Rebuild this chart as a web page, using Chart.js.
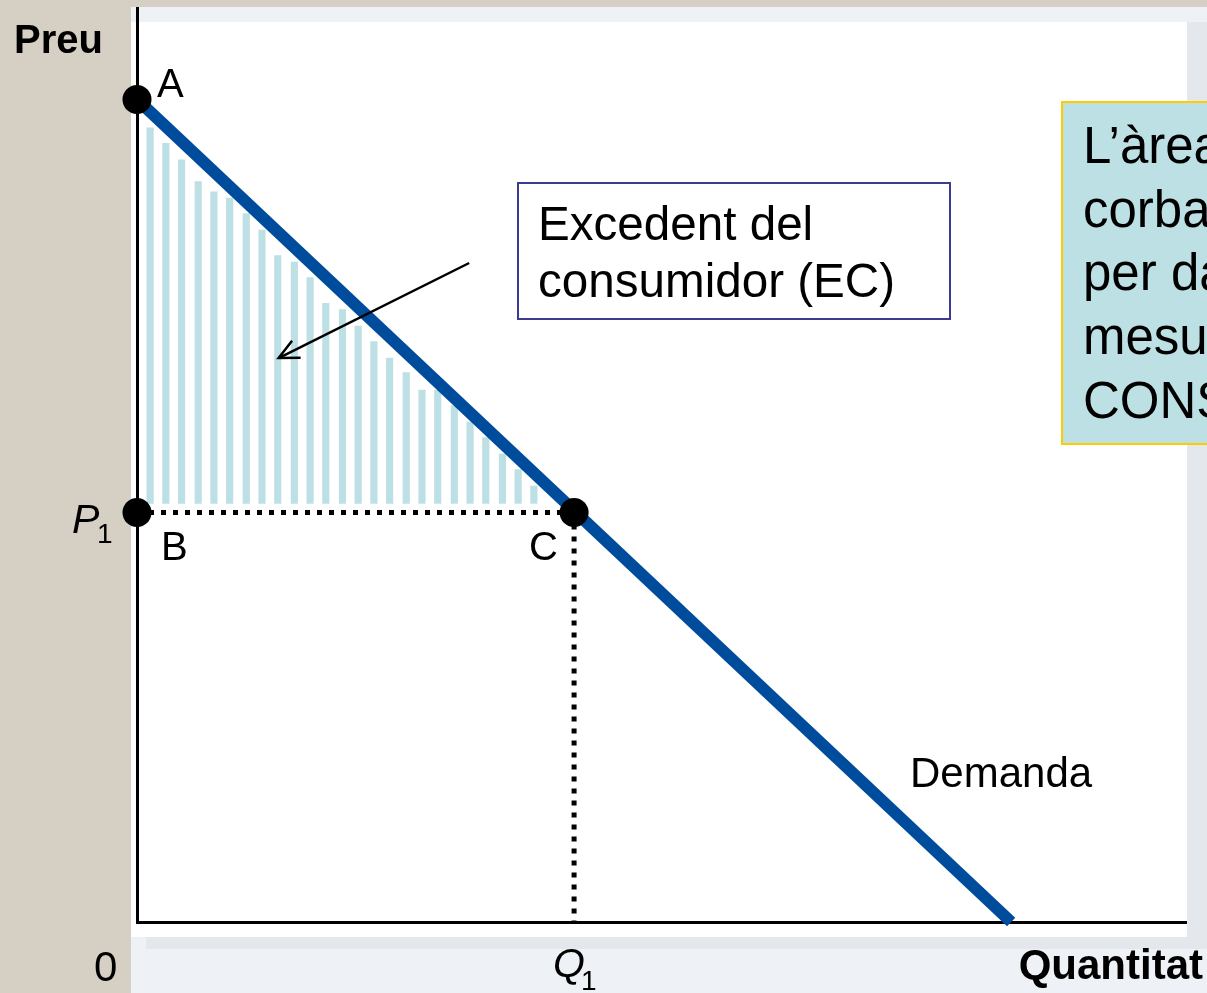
<!DOCTYPE html>
<html>
<head>
<meta charset="utf-8">
<script src="https://cdn.jsdelivr.net/npm/chart.js@4.4.1/dist/chart.umd.min.js"></script>
<style>
  html, body { margin: 0; padding: 0; background: #d5cfc4; }
  #wrap { width: 1207px; height: 993px; position: relative; }
  canvas { display: block; }
</style>
</head>
<body>
<div id="wrap"><canvas id="c" width="1207" height="993"></canvas></div>
<script>
// ---- data (quantity on x, price on y) ----
const barQ   = [0.15, 0.33, 0.51, 0.70, 0.88, 1.06, 1.25, 1.43, 1.61, 1.80, 1.98, 2.16, 2.35, 2.53, 2.71, 2.89, 3.08, 3.26, 3.44, 3.63, 3.81, 3.99, 4.18, 4.36, 4.54];
const barTop = [8.69, 8.52, 8.34, 8.10, 7.99, 7.92, 7.75, 7.57, 7.29, 7.22, 7.05, 6.77, 6.70, 6.52, 6.35, 6.17, 6.01, 5.82, 5.82, 5.65, 5.47, 5.30, 5.12, 4.95, 4.77];
const barBase = 4.58;
const demandQ = [0, 10];
const demandP = [9, 0];
const pointQ = [0, 0, 5];
const pointP = [9, 4.48, 4.48];
const pointNames = ['A', 'B', 'C'];
const priceP1 = 4.48;
const quantQ1 = 5;
const arrowQ = [3.80, 1.62];
const arrowP = [7.21, 6.17];
const xMax = 12, yMax = 10;

const FONT = '"Liberation Sans", Arial, sans-serif';

const bgPlugin = {
  id: 'bg',
  beforeDraw(chart) {
    const ctx = chart.ctx;
    ctx.save();
    ctx.fillStyle = '#d5cfc4';
    ctx.fillRect(0, 0, 1207, 993);
    ctx.fillStyle = '#eef1f5';
    ctx.fillRect(131, 7, 1076, 986);
    ctx.fillStyle = '#e4e7ec';
    ctx.fillRect(146, 937, 1061, 12);
    ctx.fillRect(1187, 22, 20, 927);
    ctx.fillStyle = '#ffffff';
    ctx.fillRect(131, 22, 1056, 915);
    ctx.restore();
  }
};

const textPlugin = {
  id: 'texts',
  afterDatasetsDraw(chart) {
    const ctx = chart.ctx;
    const xs = chart.scales.x, ys = chart.scales.y;
    ctx.save();
    // arrowhead
    const tx = xs.getPixelForValue(arrowQ[1]), ty = ys.getPixelForValue(arrowP[1]);
    const sx = xs.getPixelForValue(arrowQ[0]), sy = ys.getPixelForValue(arrowP[0]);
    const ang = Math.atan2(sy - ty, sx - tx);
    ctx.strokeStyle = '#000'; ctx.lineWidth = 2.5;
    ctx.beginPath();
    ctx.moveTo(tx + 22 * Math.cos(ang - 0.45), ty + 22 * Math.sin(ang - 0.45));
    ctx.lineTo(tx, ty);
    ctx.lineTo(tx + 22 * Math.cos(ang + 0.45), ty + 22 * Math.sin(ang + 0.45));
    ctx.stroke();
    ctx.restore();
  },
  afterDraw(chart) {
    const ctx = chart.ctx;
    ctx.save();
    ctx.fillStyle = '#000';
    ctx.textBaseline = 'alphabetic';
    ctx.textAlign = 'left';
    ctx.font = 'bold 40px ' + FONT;
    ctx.fillText('Preu', 14, 53);
    ctx.textAlign = 'right';
    ctx.font = 'bold 42px ' + FONT;
    ctx.fillText('Quantitat', 1203, 979);
    ctx.textAlign = 'left';
    ctx.font = '40px ' + FONT;
    ctx.fillText(pointNames[0], 157, 97);
    ctx.fillText(pointNames[1], 161, 560);
    ctx.fillText(pointNames[2], 529, 560);
    ctx.font = '42px ' + FONT;
    ctx.fillText('0', 94, 981);
    ctx.fillText('Demanda', 910, 787);
    ctx.font = 'italic 41px ' + FONT;
    ctx.fillText('P', 72, 533);
    ctx.fillText('Q', 553, 977);
    ctx.font = '28px ' + FONT;
    ctx.fillText('1', 97, 543);
    ctx.fillText('1', 581, 990);

    // EC box
    ctx.fillStyle = '#ffffff';
    ctx.fillRect(518, 183, 432, 136);
    ctx.strokeStyle = '#3b3b8f'; ctx.lineWidth = 2;
    ctx.strokeRect(518, 183, 432, 136);
    ctx.fillStyle = '#000';
    ctx.font = '47.6px ' + FONT;
    ctx.fillText('Excedent del', 538, 240);
    ctx.fillText('consumidor (EC)', 538, 297);

    // right note box (clipped by the page edge)
    ctx.fillStyle = '#bce0e3';
    ctx.fillRect(1062, 102, 200, 342);
    ctx.strokeStyle = '#ffcc00'; ctx.lineWidth = 2;
    ctx.strokeRect(1062, 102, 200, 342);
    ctx.fillStyle = '#000';
    ctx.font = '51px ' + FONT;
    const note = ['L\u2019àrea sota la', 'corba de demanda i', 'per damunt del preu', 'mesura l\u2019EXCEDENT DEL', 'CONSUMIDOR'];
    const base = [163, 227, 290, 354, 418];
    note.forEach((t, i) => ctx.fillText(t, 1083, base[i]));
    ctx.restore();
  }
};

const bars = barQ.map((q, i) => ({ x: q, y: [barBase, barTop[i]] }));

new Chart(document.getElementById('c'), {
  type: 'scatter',
  data: {
    datasets: [
      {
        type: 'scatter', label: 'punts',
        data: pointQ.map((q, i) => ({ x: q, y: pointP[i] })),
        pointRadius: 14.5, pointBackgroundColor: '#000', pointBorderWidth: 0,
        clip: false, order: 0
      },
      {
        type: 'line', label: 'fletxa',
        data: arrowQ.map((q, i) => ({ x: q, y: arrowP[i] })),
        borderColor: '#000', borderWidth: 2.5, pointRadius: 0, clip: false, order: 0
      },
      {
        type: 'line', label: 'Demanda',
        data: demandQ.map((q, i) => ({ x: q, y: demandP[i] })),
        borderColor: '#004c9c', borderWidth: 12, pointRadius: 0, clip: false, order: 1
      },
      {
        type: 'line', label: 'P1',
        data: [{ x: 0, y: priceP1 }, { x: quantQ1, y: priceP1 }],
        borderColor: '#000', borderWidth: 5, borderDash: [5, 7], pointRadius: 0, clip: false, order: 2
      },
      {
        type: 'line', label: 'Q1',
        data: [{ x: quantQ1, y: priceP1 }, { x: quantQ1, y: 0 }],
        borderColor: '#000', borderWidth: 5, borderDash: [5, 7], pointRadius: 0, clip: false, order: 2
      },
      {
        type: 'bar', label: 'EC',
        data: bars,
        backgroundColor: '#bce0e3', borderWidth: 0, barThickness: 6.5, order: 3
      }
    ]
  },
  options: {
    responsive: false,
    animation: false,
    devicePixelRatio: 1,
    events: [],
    layout: { autoPadding: false, padding: { top: 8, right: 21, left: 0, bottom: 0 } },
    plugins: { legend: { display: false }, tooltip: { enabled: false } },
    scales: {
      x: {
        type: 'linear', min: 0, max: xMax, offset: false,
        ticks: { display: false },
        grid: { display: false, drawTicks: false },
        border: { display: true, color: '#000', width: 3 },
        afterFit(s) { s.height = 71; }
      },
      y: {
        type: 'linear', min: 0, max: yMax,
        ticks: { display: false },
        grid: { display: false, drawTicks: false },
        border: { display: true, color: '#000', width: 3 },
        afterFit(s) { s.width = 137; }
      }
    }
  },
  plugins: [bgPlugin, textPlugin]
});
</script>
</body>
</html>
